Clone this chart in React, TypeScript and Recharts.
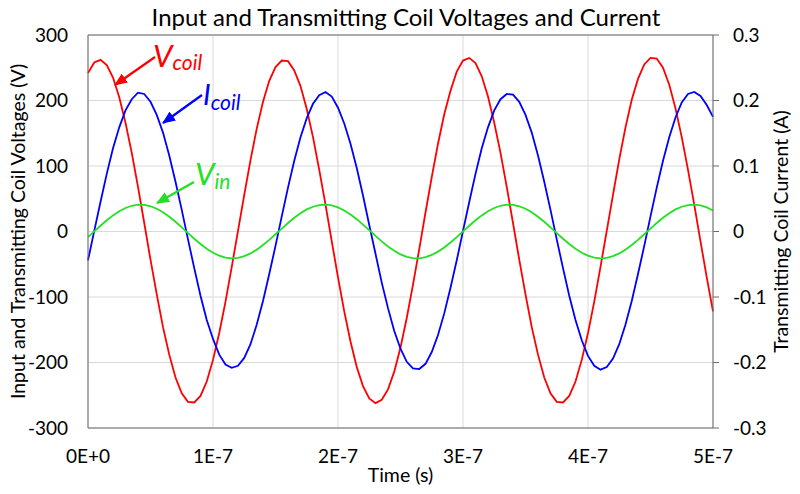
import { LineChart, Line, XAxis, YAxis, CartesianGrid, ReferenceLine } from 'recharts';

// time samples in ns (x axis shown in seconds, E-7 notation)
const timeNs = [
  0, 5, 10, 15, 20, 25, 30, 35, 40, 45, 50, 55, 60, 65, 70, 75, 80, 85, 90, 95,
  100, 105, 110, 115, 120, 125, 130, 135, 140, 145, 150, 155, 160, 165, 170, 175, 180, 185, 190, 195,
  200, 205, 210, 215, 220, 225, 230, 235, 240, 245, 250, 255, 260, 265, 270, 275, 280, 285, 290, 295,
  300, 305, 310, 315, 320, 325, 330, 335, 340, 345, 350, 355, 360, 365, 370, 375, 380, 385, 390, 395,
  400, 405, 410, 415, 420, 425, 430, 435, 440, 445, 450, 455, 460, 465, 470, 475, 480, 485, 490, 495,
  500,
];

// transmitting coil voltage (V)
const vCoil = [
  242, 258, 262, 254, 235, 205, 166, 120, 68, 13,
  -43, -96, -146, -188, -223, -247, -260, -261, -251, -229,
  -196, -155, -107, -54, 1, 56, 109, 157, 198, 230,
  251, 261, 260, 246, 222, 187, 144, 94, 41, -15,
  -70, -122, -168, -207, -236, -255, -262, -257, -241, -214,
  -177, -132, -81, -27, 29, 83, 134, 179, 215, 244,
  261, 265, 257, 237, 206, 166, 120, 68, 13, -43,
  -96, -146, -188, -223, -247, -260, -261, -251, -229, -196,
  -155, -107, -54, 1, 56, 110, 159, 201, 233, 255,
  265, 264, 250, 224, 188, 144, 94, 41, -15, -70,
  -122,
];

// transmitting coil current (A)
const iCoil = [
  -0.044, 0.001, 0.045, 0.088, 0.127, 0.159, 0.185, 0.202, 0.212, 0.21,
  0.198, 0.178, 0.151, 0.116, 0.076, 0.033, -0.012, -0.056, -0.098, -0.135,
  -0.164, -0.188, -0.203, -0.208, -0.205, -0.193, -0.172, -0.142, -0.106, -0.065,
  -0.022, 0.023, 0.067, 0.108, 0.144, 0.173, 0.195, 0.208, 0.213, 0.206,
  0.189, 0.165, 0.134, 0.097, 0.055, 0.01, -0.034, -0.078, -0.117, -0.152,
  -0.179, -0.199, -0.209, -0.21, -0.202, -0.184, -0.158, -0.125, -0.086, -0.044,
  0.001, 0.045, 0.088, 0.127, 0.159, 0.185, 0.202, 0.21, 0.209, 0.198,
  0.178, 0.151, 0.116, 0.076, 0.033, -0.012, -0.056, -0.098, -0.135, -0.166,
  -0.19, -0.205, -0.211, -0.207, -0.194, -0.172, -0.142, -0.106, -0.065, -0.022,
  0.023, 0.067, 0.108, 0.144, 0.174, 0.197, 0.21, 0.213, 0.207, 0.193,
  0.175,
];

// input voltage (V)
const vIn = [
  -8.5, 0.2, 8.8, 17.1, 24.6, 31.0, 35.9, 39.3, 40.9, 40.6,
  38.5, 34.7, 29.3, 22.5, 14.8, 6.4, -2.4, -11.0, -19.1, -26.3,
  -32.4, -36.9, -39.9, -41.0, -40.3, -37.7, -33.5, -27.7, -20.7, -12.7,
  -4.2, 4.5, 13.0, 21.0, 27.9, 33.7, 37.8, 40.3, 41.0, 39.8,
  36.8, 32.1, 26.0, 18.8, 10.6, 2.0, -6.7, -15.1, -22.8, -29.5,
  -34.9, -38.6, -40.7, -40.9, -39.2, -35.8, -30.7, -24.3, -16.8, -8.5,
  0.2, 8.8, 17.1, 24.6, 31.0, 35.9, 39.3, 40.9, 40.6, 38.5,
  34.7, 29.3, 22.5, 14.8, 6.4, -2.4, -11.0, -19.1, -26.3, -32.4,
  -36.9, -39.9, -41.0, -40.3, -37.7, -33.5, -27.7, -20.7, -12.7, -4.2,
  4.5, 13.0, 21.0, 27.9, 33.7, 37.8, 40.3, 41.0, 39.8, 36.8,
  32.1,
];

const timeTicks = [0, 100, 200, 300, 400, 500];
const timeTickLabels = ['0E+0', '1E-7', '2E-7', '3E-7', '4E-7', '5E-7'];
const voltTicks = [-300, -200, -100, 0, 100, 200, 300];
const currentTicks = [-0.3, -0.2, -0.1, 0, 0.1, 0.2, 0.3];

const rows = timeNs.map((t, i) => ({ t, vcoil: vCoil[i], icoil: iCoil[i], vin: vIn[i] }));

const FONT = 'Lato, "Open Sans", sans-serif';
const AXIS = '#6b6b6b';
const RED = '#ff0000';
const BLUE = '#0000ff';
const GREEN = '#22e022';

const tickStyle = { fill: '#000', fontSize: 19, fontFamily: FONT };
const labelStyle = { fill: '#000', fontSize: 19.5, fontFamily: FONT, textAnchor: 'middle' as const };

export default function App() {
  return (
    <div style={{ position: 'absolute', left: 0, top: 0, width: 800, height: 494, background: '#fff' }}>
      <LineChart width={800} height={494} data={rows} margin={{ top: 35, right: 0, bottom: 0, left: 0 }}>
        <CartesianGrid yAxisId="v" stroke="#d9d9d9" />
        <XAxis
          dataKey="t"
          type="number"
          domain={[0, 500]}
          ticks={timeTicks}
          tickFormatter={(v: number) => timeTickLabels[timeTicks.indexOf(v)]}
          height={66}
          tickLine={false}
          tickSize={6}
          tickMargin={16}
          axisLine={{ stroke: AXIS }}
          tick={tickStyle}
          label={{ value: 'Time (s)', position: 'insideBottom', offset: 12, style: labelStyle }}
        />
        <YAxis
          yAxisId="v"
          domain={[-300, 300]}
          ticks={voltTicks}
          width={88}
          tickLine={false}
          tickSize={6}
          tickMargin={14}
          axisLine={{ stroke: AXIS }}
          tick={tickStyle}
          label={{
            value: 'Input and Transmitting Coil Voltages (V)',
            angle: -90,
            position: 'insideLeft',
            offset: 18,
            style: labelStyle,
          }}
        />
        <YAxis
          yAxisId="i"
          orientation="right"
          domain={[-0.3, 0.3]}
          ticks={currentTicks}
          tickFormatter={(v: number) => String(v)}
          width={87}
          tickLine={{ stroke: AXIS }}
          tickSize={6}
          tickMargin={14}
          axisLine={{ stroke: AXIS }}
          tick={tickStyle}
          label={{
            value: 'Transmitting Coil Current (A)',
            angle: -90,
            position: 'insideRight',
            offset: 19,
            style: labelStyle,
          }}
        />
        <ReferenceLine yAxisId="v" y={300} stroke={AXIS} />
        <Line yAxisId="v" dataKey="vcoil" stroke={RED} strokeWidth={1.8} dot={false} isAnimationActive={false} />
        <Line yAxisId="i" dataKey="icoil" stroke={BLUE} strokeWidth={1.8} dot={false} isAnimationActive={false} />
        <Line yAxisId="v" dataKey="vin" stroke={GREEN} strokeWidth={1.8} dot={false} isAnimationActive={false} />
      </LineChart>

      {/* title and curve annotations */}
      <svg width={800} height={494} style={{ position: 'absolute', left: 0, top: 0, pointerEvents: 'none' }}>
        <defs>
          {[['r', RED], ['b', BLUE], ['g', GREEN]].map(([id, c]) => (
            <marker key={id} id={`arrow-${id}`} markerUnits="userSpaceOnUse" markerWidth={13} markerHeight={11}
              refX={12} refY={5.5} orient="auto">
              <path d="M0,0 L13,5.5 L0,11 z" fill={c} />
            </marker>
          ))}
        </defs>
        <text x={406} y={26} textAnchor="middle" fontFamily={FONT} fontSize={24} fill="#000">
          Input and Transmitting Coil Voltages and Current
        </text>

        <line x1={155} y1={57} x2={115} y2={85} stroke={RED} strokeWidth={2.2} markerEnd="url(#arrow-r)" />
        <text x={153} y={67} fontFamily={FONT} fontStyle="italic" fill={RED}>
          <tspan fontSize={31}>V</tspan>
          <tspan fontSize={21} dy={3}>coil</tspan>
        </text>

        <line x1={202} y1={95} x2={163} y2={123} stroke={BLUE} strokeWidth={2.2} markerEnd="url(#arrow-b)" />
        <text x={203} y={105} fontFamily={FONT} fontStyle="italic" fill={BLUE}>
          <tspan fontSize={29}>I</tspan>
          <tspan fontSize={21} dy={5}>coil</tspan>
        </text>

        <line x1={194} y1={182} x2={157} y2={203} stroke={GREEN} strokeWidth={2.2} markerEnd="url(#arrow-g)" />
        <text x={195} y={185} fontFamily={FONT} fontStyle="italic" fill={GREEN}>
          <tspan fontSize={31}>V</tspan>
          <tspan fontSize={21} dy={4}>in</tspan>
        </text>
      </svg>
    </div>
  );
}
